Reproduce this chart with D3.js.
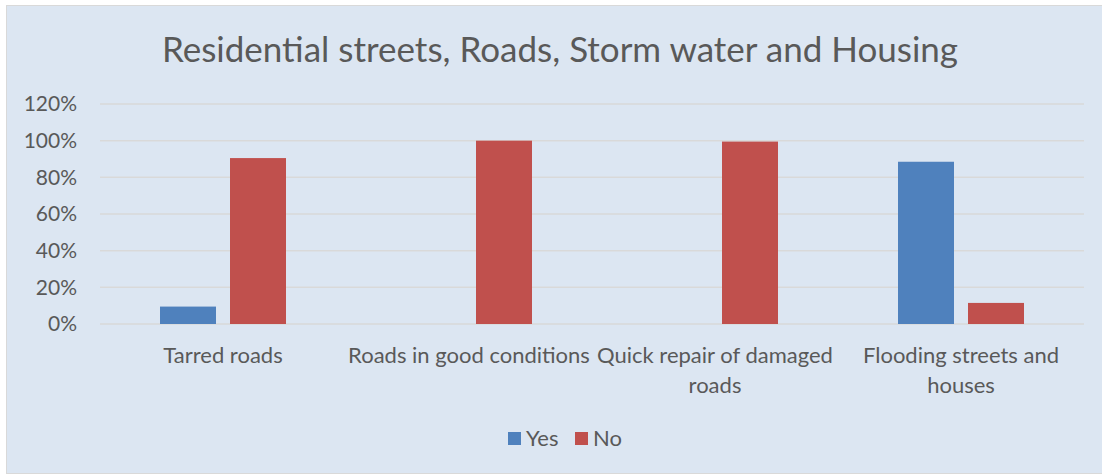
<!DOCTYPE html>
<html>
<head>
<meta charset="utf-8">
<script src="https://cdn.jsdelivr.net/npm/d3@7"></script>
<style>
  body { margin: 0; background: #fff; }
  text { font-family: Lato, "Open Sans", sans-serif; fill: #595959; }
</style>
</head>
<body>
<div id="chart"></div>
<script>
// chart data
let categories = [["Tarred roads"], ["Roads in good conditions"], ["Quick repair of damaged", "roads"], ["Flooding streets and", "houses"]];
let seriesNames = ["Yes", "No"];
let yesValues = [0.095, 0, 0, 0.885];
let noValues = [0.905, 1.0, 0.995, 0.115];
let tickValues = [0, 0.2, 0.4, 0.6, 0.8, 1.0, 1.2];

let width = 1102;
let height = 474;
let colors = ["#4f81bd", "#c0504d"];

let svg = d3.select("#chart").append("svg")
  .attr("width", width)
  .attr("height", height);

// background panel
svg.append("rect")
  .attr("x", 6.5).attr("y", 5.5)
  .attr("width", width - 6).attr("height", height - 6)
  .attr("fill", "#dce6f2")
  .attr("stroke", "#d9d9d9");

// title
svg.append("text")
  .attr("x", 560).attr("y", 62)
  .attr("text-anchor", "middle")
  .style("font-size", "35px")
  .text("Residential streets, Roads, Storm water and Housing");

let x0 = d3.scaleBand()
  .domain(d3.range(categories.length))
  .range([100, 1084]);

let x1 = d3.scaleBand()
  .domain([0, 1])
  .range([x0.bandwidth() / 2 - 63, x0.bandwidth() / 2 + 63])
  .paddingInner(0.2);

let y = d3.scaleLinear()
  .domain([0, 1.2])
  .range([324, 104]);

// gridlines
svg.append("g")
  .selectAll("line")
  .data(tickValues)
  .enter().append("line")
  .attr("x1", 100).attr("x2", 1084)
  .attr("y1", d => y(d)).attr("y2", d => y(d))
  .attr("stroke", "#d9d9d9")
  .attr("stroke-width", 1.5);

// y axis labels
svg.append("g")
  .selectAll("text")
  .data(tickValues)
  .enter().append("text")
  .attr("x", 77)
  .attr("y", d => y(d))
  .attr("dy", "0.35em")
  .attr("text-anchor", "end")
  .style("font-size", "21px")
  .text(d => d3.format(".0%")(d));

// bars
let groups = svg.append("g")
  .selectAll("g")
  .data(categories)
  .enter().append("g")
  .attr("transform", (d, i) => "translate(" + x0(i) + ",0)");

groups.selectAll("rect")
  .data((d, i) => [yesValues[i], noValues[i]])
  .enter().append("rect")
  .attr("x", (d, j) => x1(j))
  .attr("width", x1.bandwidth())
  .attr("y", d => y(d))
  .attr("height", d => y(0) - y(d))
  .attr("fill", (d, j) => colors[j]);

// category labels
groups.append("text")
  .attr("x", x0.bandwidth() / 2)
  .attr("y", 363)
  .attr("text-anchor", "middle")
  .style("font-size", "22px")
  .selectAll("tspan")
  .data(d => d)
  .enter().append("tspan")
  .attr("x", x0.bandwidth() / 2)
  .attr("dy", (d, k) => k === 0 ? 0 : 30)
  .text(d => d);

// legend
let legend = svg.append("g")
  .selectAll("g")
  .data(seriesNames)
  .enter().append("g")
  .attr("transform", (d, i) => "translate(" + (508 + i * 67) + ",432)");

legend.append("rect")
  .attr("width", 13).attr("height", 13)
  .attr("fill", (d, i) => colors[i]);

legend.append("text")
  .attr("x", 18).attr("y", 6.5)
  .attr("dy", "0.35em")
  .style("font-size", "22px")
  .text(d => d);
</script>
</body>
</html>
